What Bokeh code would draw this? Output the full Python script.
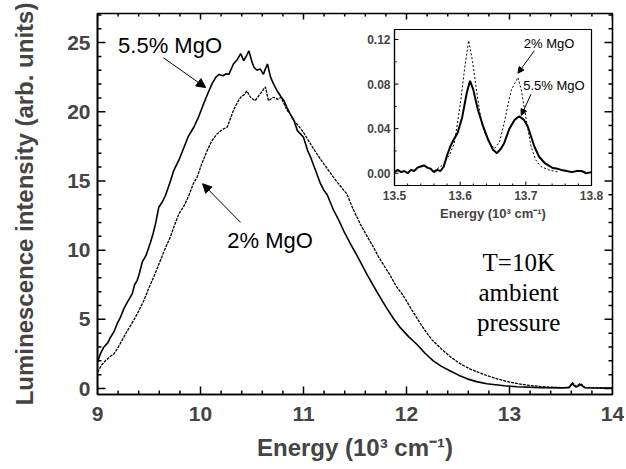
from bokeh.plotting import figure
from bokeh.models import (Range1d, FixedTicker, Label, Arrow, NormalHead, NumeralTickFormatter)
from bokeh.layouts import column
from bokeh.embed import file_html
from bokeh.resources import INLINE

# ---- main spectra (energy in 10^3 cm^-1, intensity arb. units) ----
energy_55 = [9.00, 9.03, 9.06, 9.10, 9.126, 9.16, 9.19, 9.22, 9.255, 9.29, 9.337, 9.36, 9.385, 9.41,
             9.434, 9.47, 9.515, 9.54, 9.563, 9.595, 9.63, 9.66, 9.71, 9.74, 9.79, 9.84, 9.88, 9.935,
             9.98, 10.03, 10.07, 10.11, 10.15, 10.18, 10.22, 10.25, 10.275, 10.32, 10.36, 10.39, 10.42,
             10.45, 10.47, 10.50, 10.52, 10.55, 10.58, 10.61, 10.63, 10.65, 10.68, 10.71, 10.745, 10.78,
             10.81, 10.84, 10.87, 10.906, 10.94, 10.97, 11.00, 11.04, 11.07, 11.10, 11.13, 11.165, 11.20,
             11.23, 11.29, 11.34, 11.39, 11.456, 11.52, 11.62, 11.72, 11.80, 11.87, 11.94, 12.02, 12.10,
             12.18, 12.26, 12.34, 12.43, 12.51, 12.59, 12.68, 12.78, 12.95, 13.07, 13.30, 13.50, 13.58,
             13.61, 13.645, 13.69, 13.73, 13.85, 14.00]
intensity_55 = [1.90, 2.55, 2.98, 3.30, 3.71, 4.10, 4.67, 5.10, 5.76, 6.25, 6.84, 7.50, 7.80, 8.40,
                9.13, 9.60, 10.57, 11.20, 11.90, 13.10, 13.50, 13.95, 15.03, 15.75, 16.50, 17.44, 18.20, 18.88,
                19.60, 20.57, 21.30, 22.00, 22.50, 22.70, 22.60, 22.75, 22.70, 23.45, 23.80, 24.20, 23.70,
                24.10, 24.40, 23.60, 23.20, 23.00, 23.10, 22.70, 23.10, 23.45, 22.50, 22.00, 21.50, 21.10,
                20.80, 20.30, 19.85, 19.40, 18.64, 18.40, 18.16, 17.20, 16.70, 16.10, 15.50, 14.80, 14.30,
                14.00, 12.92, 12.20, 11.40, 10.45, 9.60, 8.20, 6.90, 5.90, 5.10, 4.40, 3.75, 3.20,
                2.55, 2.00, 1.60, 1.25, 0.95, 0.70, 0.50, 0.35, 0.20, 0.13, 0.07, 0.05, 0.07,
                0.35, 0.10, 0.28, 0.06, 0.04, 0.03]

energy_2 = [9.00, 9.04, 9.078, 9.12, 9.16, 9.21, 9.255, 9.30, 9.35, 9.40, 9.45, 9.49, 9.53, 9.57,
            9.61, 9.645, 9.677, 9.71, 9.74, 9.79, 9.84, 9.887, 9.93, 9.968, 10.01, 10.065, 10.11, 10.16,
            10.21, 10.26, 10.29, 10.32, 10.36, 10.39, 10.42, 10.45, 10.485, 10.53, 10.56, 10.58, 10.61,
            10.63, 10.66, 10.71, 10.75, 10.78, 10.81, 10.84, 10.87, 10.90, 10.95, 11.00, 11.05, 11.10,
            11.13, 11.20, 11.25, 11.29, 11.35, 11.42, 11.48, 11.55, 11.61, 11.68, 11.73, 11.78, 11.84,
            11.90, 11.97, 12.05, 12.10, 12.17, 12.25, 12.34, 12.43, 12.52, 12.62, 12.75, 12.88, 12.98,
            13.08, 13.20, 13.30, 13.40, 13.52, 13.58, 13.61, 13.645, 13.69, 13.73, 13.80, 14.00]
intensity_2 = [1.18, 1.70, 2.02, 2.30, 2.50, 3.10, 3.71, 4.30, 4.91, 5.60, 6.36, 7.10, 7.80, 8.50,
               9.25, 9.90, 10.45, 11.00, 11.65, 12.62, 13.20, 13.95, 14.80, 15.30, 16.20, 17.20, 17.90, 18.40,
               18.70, 18.90, 19.50, 20.10, 20.70, 21.05, 21.20, 21.50, 21.05, 20.80, 21.10, 21.30, 21.60,
               21.80, 20.80, 21.05, 20.90, 21.05, 20.60, 20.10, 19.85, 19.40, 19.00, 18.50, 17.90, 17.30,
               16.96, 16.20, 15.70, 15.27, 14.70, 14.07, 13.00, 11.90, 11.10, 10.20, 9.50, 8.90, 8.20,
               7.40, 6.70, 5.70, 5.10, 4.30, 3.50, 2.85, 2.27, 1.80, 1.40, 1.02, 0.70, 0.50,
               0.35, 0.22, 0.15, 0.10, 0.07, 0.10, 0.45, 0.15, 0.38, 0.08, 0.05, 0.03]

# ---- inset: R-lines region ----
inset_energy_55 = [13.500, 13.505, 13.510, 13.515, 13.520, 13.525, 13.530, 13.535, 13.540, 13.545,
                   13.550, 13.555, 13.560, 13.565, 13.570, 13.575, 13.580, 13.585, 13.590, 13.596,
                   13.603, 13.610, 13.615, 13.620, 13.627, 13.635, 13.642, 13.650, 13.656, 13.662,
                   13.667, 13.675, 13.683, 13.690, 13.697, 13.703, 13.708, 13.713, 13.720, 13.729,
                   13.740, 13.748, 13.754, 13.762, 13.770, 13.778, 13.785, 13.792, 13.800]
inset_55 = [0.001, 0.003, 0.001, 0.002, 0.000, 0.003, 0.002, 0.005, 0.006, 0.007,
            0.005, 0.004, 0.001, 0.003, 0.002, 0.006, 0.016, 0.024, 0.030, 0.036,
            0.050, 0.072, 0.083, 0.075, 0.057, 0.042, 0.031, 0.021, 0.018, 0.022,
            0.027, 0.040, 0.048, 0.051, 0.048, 0.042, 0.033, 0.024, 0.015, 0.009,
            0.005, 0.004, 0.003, 0.002, 0.001, 0.002, 0.002, 0.000, 0.001]

inset_energy_2 = [13.560, 13.575, 13.585, 13.591, 13.596, 13.601, 13.607, 13.613, 13.619, 13.624,
                  13.629, 13.634, 13.642, 13.652, 13.660, 13.667, 13.673, 13.678, 13.688, 13.693,
                  13.698, 13.703, 13.708, 13.715, 13.723, 13.735, 13.750]
inset_2 = [0.002, 0.008, 0.018, 0.027, 0.045, 0.066, 0.095, 0.119, 0.100, 0.078,
           0.058, 0.042, 0.030, 0.022, 0.028, 0.045, 0.062, 0.075, 0.086, 0.075,
           0.057, 0.040, 0.024, 0.012, 0.006, 0.003, 0.001]

# ---- tick values ----
x_major = [9, 10, 11, 12, 13, 14]
x_minor = [9.2, 9.4, 9.6, 9.8, 10.2, 10.4, 10.6, 10.8, 11.2, 11.4, 11.6, 11.8,
           12.2, 12.4, 12.6, 12.8, 13.2, 13.4, 13.6, 13.8]
y_major = [0, 5, 10, 15, 20, 25]
y_minor = [1, 2, 3, 4, 6, 7, 8, 9, 11, 12, 13, 14, 16, 17, 18, 19, 21, 22, 23, 24, 26, 27]
inset_x_major = [13.5, 13.6, 13.7, 13.8]
inset_x_minor = [13.52, 13.54, 13.56, 13.58, 13.62, 13.64, 13.66, 13.68, 13.72, 13.74, 13.76, 13.78]
inset_y_major = [0.0, 0.04, 0.08, 0.12]
inset_y_minor = [0.02, 0.06, 0.10]

FONT = "Liberation Sans"
BL, BR, BT, BB = 97, 12, 13, 74
W, H = 624, 468
X0, X1, Y0, Y1 = 9, 14, -0.43, 27.1
IX0, IX1, IY0, IY1 = 13.5, 13.8, -0.011, 0.129
IFW, IFH = 197, 156
NAN = float("nan")


def tick_marks(fig, x0, x1, y0, y1, fw, fh, xs_major, xs_minor, ys_major, ys_minor,
               lmaj, lmin, width, top_right=True):
    # inward tick marks drawn as one broken line; pixel lengths converted to data units
    dx = (x1 - x0) / fw
    dy = (y1 - y0) / fh
    px, py = [], []
    sides = [(x0, +1)] + ([(x1, -1)] if top_right else [])
    for xe, sgn in sides:
        for vals, ln in ((ys_major, lmaj), (ys_minor, lmin)):
            for v in vals:
                px += [xe, xe + sgn * ln * dx, NAN]
                py += [v, v, NAN]
    tops = [(y0, +1, 0)] + ([(y1, -1, 1)] if top_right else [])
    for ye, sgn, shorten in tops:
        for vals, ln in ((xs_major, lmaj - 2 * shorten), (xs_minor, lmin - shorten)):
            for v in vals:
                px += [v, v, NAN]
                py += [ye, ye + sgn * ln * dy, NAN]
    fig.line(px, py, line_color="black", line_width=width)


p = figure(width=W, height=H, x_range=Range1d(X0, X1), y_range=Range1d(Y0, Y1),
           output_backend="svg", toolbar_location=None,
           min_border_left=BL, min_border_right=BR, min_border_top=BT, min_border_bottom=BB)
p.grid.visible = False
p.outline_line_color = "black"
p.outline_line_width = 1.6
p.background_fill_color = "white"
p.border_fill_color = "white"

bx = p.xaxis[0]
bx.ticker = FixedTicker(ticks=x_major, minor_ticks=x_minor)
bx.axis_label = "Energy (10³ cm⁻¹)"
bx.major_label_standoff = 12
bx.axis_label_standoff = 10
bx.major_label_text_font = FONT
bx.major_label_text_font_style = "bold"
bx.major_label_text_font_size = "21px"
bx.axis_label_text_font = FONT
bx.axis_label_text_font_style = "bold"
bx.axis_label_text_font_size = "24px"

ly = p.yaxis[0]
ly.ticker = FixedTicker(ticks=y_major, minor_ticks=y_minor)
ly.axis_label = "Luminescence intensity (arb. units)"
ly.major_label_standoff = 7
ly.axis_label_standoff = 26
ly.major_label_text_font = FONT
ly.major_label_text_font_style = "bold"
ly.major_label_text_font_size = "21px"
ly.axis_label_text_font = FONT
ly.axis_label_text_font_style = "bold"
ly.axis_label_text_font_size = "24px"

for ax in (bx, ly):
    ax.axis_line_width = 1.6
    ax.axis_line_color = "black"
    ax.major_tick_in = 0
    ax.major_tick_out = 0
    ax.minor_tick_in = 0
    ax.minor_tick_out = 0

tick_marks(p, X0, X1, Y0, Y1, W - BL - BR, H - BT - BB, x_major, x_minor, y_major, y_minor,
           8, 4, 1.5)

p.line(energy_2, intensity_2, line_color="black", line_width=1.3, line_dash="3 1")
p.line(energy_55, intensity_55, line_color="black", line_width=1.6)

p.add_layout(Label(x=9.2, y=24.8, text="5.5% MgO", text_baseline="middle", text_font=FONT,
                   text_font_size="22px", text_color="black"))
p.add_layout(Label(x=10.26, y=10.7, text="2% MgO", text_baseline="middle", text_font=FONT,
                   text_font_size="22px", text_color="black"))
p.add_layout(Arrow(x_start=9.64, y_start=23.9, x_end=10.05, y_end=21.75, line_width=1,
                   end=NormalHead(size=9, fill_color="black", line_color="black")))
p.add_layout(Arrow(x_start=10.39, y_start=12.0, x_end=10.02, y_end=14.8, line_width=1,
                   end=NormalHead(size=9, fill_color="black", line_color="black")))
for txt, yy in (("T=10K", 9.1), ("ambient", 6.94), ("pressure", 4.77)):
    p.add_layout(Label(x=13.09, y=yy, text=txt, text_align="center", text_baseline="middle",
                       text_font="Liberation Serif", text_font_size="25px", text_color="black"))

# ---- inset ----
ins = figure(frame_width=IFW, frame_height=IFH, x_range=Range1d(IX0, IX1),
             y_range=Range1d(IY0, IY1),
             output_backend="svg", toolbar_location=None,
             min_border_left=BL, min_border_right=BR, min_border_top=6, min_border_bottom=40,
             styles={"position": "absolute", "left": "297px", "top": "23px"})
ins.grid.visible = False
ins.outline_line_color = "black"
ins.outline_line_width = 1.2
ins.background_fill_color = "white"
ins.border_fill_alpha = 0

ibx = ins.xaxis[0]
ibx.ticker = FixedTicker(ticks=inset_x_major, minor_ticks=inset_x_minor)
ibx.formatter = NumeralTickFormatter(format="0.0")
ibx.axis_label = "Energy (10³ cm⁻¹)"
ibx.major_label_standoff = 5
ibx.axis_label_standoff = 3
ibx.major_label_text_font = FONT
ibx.major_label_text_font_style = "bold"
ibx.major_label_text_font_size = "12px"
ibx.axis_label_text_font = FONT
ibx.axis_label_text_font_style = "bold"
ibx.axis_label_text_font_size = "13px"

ily = ins.yaxis[0]
ily.ticker = FixedTicker(ticks=inset_y_major, minor_ticks=inset_y_minor)
ily.formatter = NumeralTickFormatter(format="0.00")
ily.major_label_standoff = 4
ily.major_label_text_font = FONT
ily.major_label_text_font_style = "bold"
ily.major_label_text_font_size = "12px"
for ax in (ibx, ily):
    ax.axis_line_width = 1.2
    ax.major_tick_in = 0
    ax.major_tick_out = 0
    ax.minor_tick_in = 0
    ax.minor_tick_out = 0

tick_marks(ins, IX0, IX1, IY0, IY1, IFW, IFH, inset_x_major, inset_x_minor,
           inset_y_major, inset_y_minor, 4, 2, 1, top_right=False)

ins.line(inset_energy_2, inset_2, line_color="black", line_width=1, line_dash="2 2")
ins.line(inset_energy_55, inset_55, line_color="black", line_width=2)

ins.add_layout(Label(x=13.697, y=0.1167, text="2% MgO", text_baseline="middle", text_font=FONT,
                     text_font_size="13px", text_color="black"))
ins.add_layout(Label(x=13.696, y=0.079, text="5.5% MgO", text_baseline="middle", text_font=FONT,
                     text_font_size="13px", text_color="black"))
ins.add_layout(Arrow(x_start=13.713, y_start=0.110, x_end=13.688, y_end=0.0898, line_width=1,
                     end=NormalHead(size=6, fill_color="black", line_color="black")))
ins.add_layout(Arrow(x_start=13.708, y_start=0.071, x_end=13.693, y_end=0.052, line_width=1,
                     end=NormalHead(size=6, fill_color="black", line_color="black")))

layout = column(p, ins)
open("out.html", "w").write(file_html(layout, INLINE))
